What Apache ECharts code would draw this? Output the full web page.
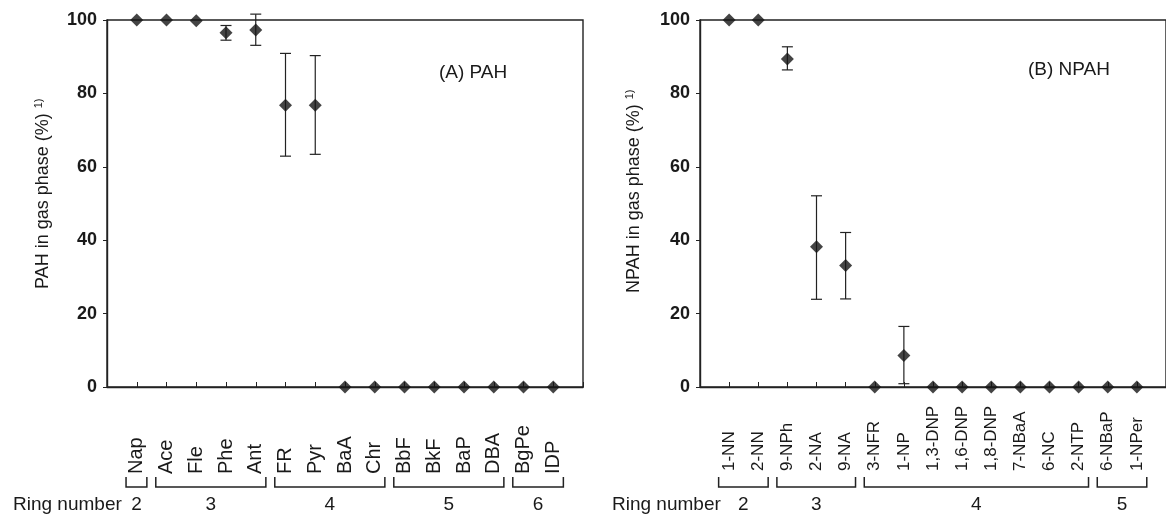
<!DOCTYPE html>
<html>
<head>
<meta charset="utf-8">
<script src="https://cdn.jsdelivr.net/npm/echarts@6/dist/echarts.min.js"></script>
<style>html,body{margin:0;padding:0;background:#fff}#c{width:1166px;height:518px}</style>
</head>
<body>
<div id="c"></div>
<script>
// ---- data ----
const pahCats = ['Nap','Ace','Fle','Phe','Ant','FR','Pyr','BaA','Chr','BbF','BkF','BaP','DBA','BgPe','IDP'];
const pahMean = [100,100,99.8,96.5,97.3,76.8,76.8,0,0,0,0,0,0,0,0];
const pahLow  = [null,null,null,94.5,93.1,62.9,63.4,null,null,null,null,null,null,null,null];
const pahHigh = [null,null,null,98.5,101.6,90.9,90.3,null,null,null,null,null,null,null,null];
const pahRings = ['2','3','4','5','6'];
const pahRingFirst = [1,2,6,10,14];
const pahRingLast  = [1,5,9,13,15];

const npahCats = ['1-NN','2-NN','9-NPh','2-NA','9-NA','3-NFR','1-NP','1,3-DNP','1,6-DNP','1,8-DNP','7-NBaA','6-NC','2-NTP','6-NBaP','1-NPer'];
const npahMean = [100,100,89.4,38.2,33.1,0,8.6,0,0,0,0,0,0,0,0];
const npahLow  = [null,null,86.4,23.9,24.0,null,0.9,null,null,null,null,null,null,null,null];
const npahHigh = [null,null,92.7,52.1,42.1,null,16.5,null,null,null,null,null,null,null,null];
const npahRings = ['2','3','4','5'];
const npahRingFirst = [1,3,6,14];
const npahRingLast  = [2,5,13,15];

const yTicks = [0,20,40,60,80,100];

// ---- build ----
const FONT = 'Liberation Sans, Arial, Helvetica, sans-serif';
const INK = '#1a1a1a';
const LINE = '#222';

function pts(mean){ return mean.map((v,i)=>[i+1,v]); }
function errs(lo,hi){ const r=[]; lo.forEach((v,i)=>{ if(v!=null) r.push([i+1,v,hi[i]]); }); return r; }
function rings(names, f, l){ return names.map((n,i)=>[f[i], l[i], n]); }

function xAxis(gi, cats, fs, margin){
  return {
    type:'value', gridIndex:gi, min:0, max:16, interval:1,
    axisLine:{show:true, lineStyle:{color:LINE, width:1.4}},
    axisTick:{show:true, inside:true, length:5, lineStyle:{color:LINE, width:1}},
    axisLabel:{show:true, rotate:90, align:'left', verticalAlign:'middle', margin:margin,
      fontSize:fs, fontFamily:FONT, color:INK,
      formatter:function(v){ return cats[v-1] || ''; }},
    splitLine:{show:false}
  };
}
function yAxis(gi){
  return {
    type:'value', gridIndex:gi, min:yTicks[0], max:yTicks[yTicks.length-1], interval:yTicks[1]-yTicks[0],
    axisLine:{show:true, lineStyle:{color:LINE, width:1.4}},
    axisTick:{show:true, inside:false, length:4, lineStyle:{color:LINE, width:1}},
    axisLabel:{fontSize:18, fontWeight:'bold', fontFamily:FONT, color:INK, margin:10},
    splitLine:{show:false}
  };
}
function errSeries(gi, data){
  return {
    type:'custom', xAxisIndex:gi, yAxisIndex:gi, data:data, z:2, clip:false,
    renderItem:function(params, api){
      const x=api.value(0);
      const a=api.coord([x, api.value(1)]), b=api.coord([x, api.value(2)]);
      const w=5.5, st={stroke:LINE, lineWidth:1.2};
      return {type:'group', children:[
        {type:'line', shape:{x1:a[0],y1:a[1],x2:b[0],y2:b[1]}, style:st},
        {type:'line', shape:{x1:a[0]-w,y1:a[1],x2:a[0]+w,y2:a[1]}, style:st},
        {type:'line', shape:{x1:b[0]-w,y1:b[1],x2:b[0]+w,y2:b[1]}, style:st}
      ]};
    }
  };
}
function ringSeries(gi, data){
  return {
    type:'custom', xAxisIndex:gi, yAxisIndex:gi, data:data, z:2, clip:false, silent:true,
    renderItem:function(params, api){
      const a=api.coord([api.value(0)-0.36, 0]), b=api.coord([api.value(1)+0.34, 0]);
      const yT=a[1]+90, yB=a[1]+100, st={stroke:LINE, lineWidth:1.5, fill:null};
      return {type:'group', children:[
        {type:'polyline', shape:{points:[[a[0],yT],[a[0],yB],[b[0],yB],[b[0],yT]]}, style:st},
        {type:'text', x:(a[0]+b[0])/2, y:a[1]+118,
          style:{text:String(api.value(2)), fill:INK, font:'19px '+FONT, align:'center', verticalAlign:'middle', textAlign:'center', textVerticalAlign:'middle'}}
      ]};
    }
  };
}
function scatter(gi, data){
  return {type:'scatter', xAxisIndex:gi, yAxisIndex:gi, data:data, symbol:'diamond', symbolSize:13,
    itemStyle:{color:'#151515'}, z:4, clip:false};
}
function yName(x, y, main){
  return {type:'text', x:x, y:y, rotation:Math.PI/2,
    style:{text:'{m|'+main+'} {s|1)}', fill:INK, font:'18px '+FONT,
      align:'left', verticalAlign:'middle', textAlign:'left', textVerticalAlign:'middle',
      rich:{m:{fontSize:18, fontFamily:FONT, fill:INK, lineHeight:20}, s:{fontSize:11, fontFamily:FONT, fill:INK, verticalAlign:'top', lineHeight:20}}}};
}
function txt(x, y, t, fs){
  return {type:'text', x:x, y:y, style:{text:t, fill:INK, font:fs+'px '+FONT, align:'left', verticalAlign:'middle', textAlign:'left', textVerticalAlign:'middle'}};
}

const chart = echarts.init(document.getElementById('c'), null, {renderer:'canvas'});
chart.setOption({
  animation:false,
  backgroundColor:'#fff',
  textStyle:{fontFamily:FONT},
  grid:[
    {left:107, top:20, width:476, height:367, show:true, borderColor:LINE, borderWidth:1.4, backgroundColor:'transparent'},
    {left:700, top:20, width:477, height:367, show:true, borderColor:LINE, borderWidth:1.4, backgroundColor:'transparent'}
  ],
  xAxis:[xAxis(0, pahCats, 20, 87), xAxis(1, npahCats, 17, 84)],
  yAxis:[yAxis(0), yAxis(1)],
  series:[
    errSeries(0, errs(pahLow, pahHigh)),
    scatter(0, pts(pahMean)),
    ringSeries(0, rings(pahRings, pahRingFirst, pahRingLast)),
    errSeries(1, errs(npahLow, npahHigh)),
    scatter(1, pts(npahMean)),
    ringSeries(1, rings(npahRings, npahRingFirst, npahRingLast))
  ],
  graphic:[
    yName(43.5, 289, 'PAH in gas phase (%)'),
    yName(634, 293, 'NPAH in gas phase (%)'),
    txt(439, 73, '(A) PAH', 19),
    txt(1028, 70, '(B) NPAH', 19),
    txt(13, 505, 'Ring number', 19),
    txt(612, 505, 'Ring number', 19)
  ]
});
</script>
</body>
</html>
